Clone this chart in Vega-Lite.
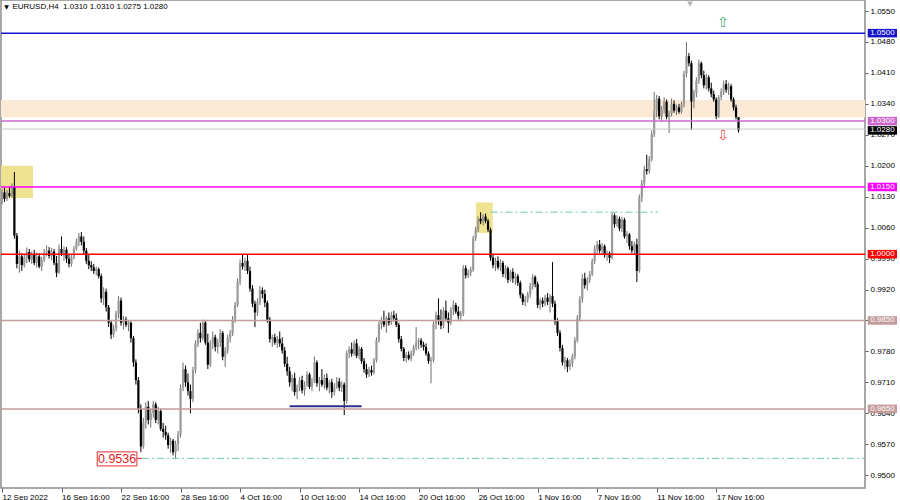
{
"$schema":"https://vega.github.io/schema/vega-lite/v6.json",
"width":864,"height":488,"autosize":"none",
"padding":{"left":1,"top":0,"right":35,"bottom":12},
"background":"white",
"config":{"view":{"stroke":"#8c8c8c","strokeWidth":1.5},"font":"Liberation Sans",
 "axis":{"labelOverlap":false,"labelBound":false,"labelFlush":false,"grid":false,"domain":false,"labelFont":"Liberation Sans","labelFontSize":8,"labelColor":"#000000","tickColor":"#606060"}},
"datasets":{
"lv":[{"p":1.05,"k":"1.0500"},{"p":1.0301,"k":"1.0300"},{"p":1.028,"k":"1.0280"},{"p":1.0152,"k":"1.0150"},{"p":1.0,"k":"1.0000"},{"p":0.985,"k":"0.9850"},{"p":0.965,"k":"0.9650"}],
"c":[
{"i":0,"o":1.0120,"h":1.0148,"l":1.0112,"c":1.0140},
{"i":1,"o":1.0140,"h":1.0150,"l":1.0118,"c":1.0125},
{"i":2,"o":1.0125,"h":1.0145,"l":1.0120,"c":1.0138},
{"i":3,"o":1.0138,"h":1.0152,"l":1.0128,"c":1.0132},
{"i":4,"o":1.0132,"h":1.0160,"l":1.0128,"c":1.0152},
{"i":5,"o":1.0152,"h":1.0186,"l":1.0035,"c":1.0042},
{"i":6,"o":1.0042,"h":1.0048,"l":0.9968,"c":0.9978},
{"i":7,"o":0.9978,"h":1.0008,"l":0.9958,"c":0.9995},
{"i":8,"o":0.9995,"h":1.0002,"l":0.9962,"c":0.9975},
{"i":9,"o":0.9975,"h":1.0000,"l":0.9970,"c":0.9992},
{"i":10,"o":0.9992,"h":1.0015,"l":0.9980,"c":1.0005},
{"i":11,"o":1.0005,"h":1.0012,"l":0.9982,"c":0.9988},
{"i":12,"o":0.9988,"h":1.0006,"l":0.9978,"c":0.9998},
{"i":13,"o":0.9998,"h":1.0010,"l":0.9975,"c":0.9980},
{"i":14,"o":0.9980,"h":1.0004,"l":0.9970,"c":0.9995},
{"i":15,"o":0.9995,"h":1.0002,"l":0.9968,"c":0.9972},
{"i":16,"o":0.9972,"h":0.9994,"l":0.9962,"c":0.9988},
{"i":17,"o":0.9988,"h":1.0012,"l":0.9982,"c":1.0004},
{"i":18,"o":1.0004,"h":1.0020,"l":0.9995,"c":1.0008},
{"i":19,"o":1.0008,"h":1.0016,"l":0.9990,"c":0.9996},
{"i":20,"o":0.9996,"h":1.0014,"l":0.9986,"c":1.0006},
{"i":21,"o":1.0006,"h":1.0012,"l":0.9975,"c":0.9980},
{"i":22,"o":0.9980,"h":0.9996,"l":0.9948,"c":0.9958},
{"i":23,"o":0.9958,"h":1.0022,"l":0.9955,"c":1.0012},
{"i":24,"o":1.0012,"h":1.0040,"l":0.9996,"c":1.0002},
{"i":25,"o":1.0002,"h":1.0018,"l":0.9985,"c":1.0010},
{"i":26,"o":1.0010,"h":1.0016,"l":0.9980,"c":0.9990},
{"i":27,"o":0.9990,"h":1.0000,"l":0.9970,"c":0.9978},
{"i":28,"o":0.9978,"h":0.9998,"l":0.9972,"c":0.9992},
{"i":29,"o":0.9992,"h":1.0018,"l":0.9988,"c":1.0012},
{"i":30,"o":1.0012,"h":1.0035,"l":1.0008,"c":1.0028},
{"i":31,"o":1.0028,"h":1.0048,"l":1.0018,"c":1.0040},
{"i":32,"o":1.0040,"h":1.0050,"l":1.0020,"c":1.0028},
{"i":33,"o":1.0028,"h":1.0040,"l":1.0000,"c":1.0008},
{"i":34,"o":1.0008,"h":1.0014,"l":0.9978,"c":0.9985},
{"i":35,"o":0.9985,"h":0.9998,"l":0.9966,"c":0.9975},
{"i":36,"o":0.9975,"h":0.9984,"l":0.9962,"c":0.9970},
{"i":37,"o":0.9970,"h":0.9978,"l":0.9955,"c":0.9962},
{"i":38,"o":0.9962,"h":0.9972,"l":0.9952,"c":0.9966},
{"i":39,"o":0.9966,"h":0.9970,"l":0.9945,"c":0.9950},
{"i":40,"o":0.9950,"h":0.9956,"l":0.9890,"c":0.9900},
{"i":41,"o":0.9900,"h":0.9925,"l":0.9885,"c":0.9915},
{"i":42,"o":0.9915,"h":0.9922,"l":0.9870,"c":0.9880},
{"i":43,"o":0.9880,"h":0.9885,"l":0.9835,"c":0.9845},
{"i":44,"o":0.9845,"h":0.9850,"l":0.9808,"c":0.9818},
{"i":45,"o":0.9818,"h":0.9840,"l":0.9812,"c":0.9832},
{"i":46,"o":0.9832,"h":0.9872,"l":0.9825,"c":0.9865},
{"i":47,"o":0.9865,"h":0.9905,"l":0.9855,"c":0.9895},
{"i":48,"o":0.9895,"h":0.9902,"l":0.9838,"c":0.9845},
{"i":49,"o":0.9845,"h":0.9860,"l":0.9830,"c":0.9852},
{"i":50,"o":0.9852,"h":0.9858,"l":0.9835,"c":0.9840},
{"i":51,"o":0.9840,"h":0.9850,"l":0.9826,"c":0.9845},
{"i":52,"o":0.9845,"h":0.9848,"l":0.9800,"c":0.9810},
{"i":53,"o":0.9810,"h":0.9815,"l":0.9745,"c":0.9755},
{"i":54,"o":0.9755,"h":0.9762,"l":0.9705,"c":0.9715},
{"i":55,"o":0.9715,"h":0.9722,"l":0.9640,"c":0.9650},
{"i":56,"o":0.9650,"h":0.9660,"l":0.9552,"c":0.9565},
{"i":57,"o":0.9565,"h":0.9630,"l":0.9560,"c":0.9620},
{"i":58,"o":0.9620,"h":0.9665,"l":0.9605,"c":0.9655},
{"i":59,"o":0.9655,"h":0.9668,"l":0.9615,"c":0.9625},
{"i":60,"o":0.9625,"h":0.9650,"l":0.9608,"c":0.9640},
{"i":61,"o":0.9640,"h":0.9668,"l":0.9630,"c":0.9660},
{"i":62,"o":0.9660,"h":0.9665,"l":0.9618,"c":0.9625},
{"i":63,"o":0.9625,"h":0.9655,"l":0.9615,"c":0.9645},
{"i":64,"o":0.9645,"h":0.9650,"l":0.9600,"c":0.9605},
{"i":65,"o":0.9605,"h":0.9618,"l":0.9585,"c":0.9598},
{"i":66,"o":0.9598,"h":0.9612,"l":0.9580,"c":0.9590},
{"i":67,"o":0.9590,"h":0.9596,"l":0.9560,"c":0.9568},
{"i":68,"o":0.9568,"h":0.9585,"l":0.9550,"c":0.9578},
{"i":69,"o":0.9578,"h":0.9582,"l":0.9545,"c":0.9552},
{"i":70,"o":0.9552,"h":0.9578,"l":0.9536,"c":0.9570},
{"i":71,"o":0.9570,"h":0.9600,"l":0.9555,"c":0.9592},
{"i":72,"o":0.9592,"h":0.9705,"l":0.9585,"c":0.9698},
{"i":73,"o":0.9698,"h":0.9755,"l":0.9690,"c":0.9740},
{"i":74,"o":0.9740,"h":0.9748,"l":0.9700,"c":0.9710},
{"i":75,"o":0.9710,"h":0.9730,"l":0.9680,"c":0.9690},
{"i":76,"o":0.9690,"h":0.9705,"l":0.9640,"c":0.9672},
{"i":77,"o":0.9672,"h":0.9745,"l":0.9665,"c":0.9738},
{"i":78,"o":0.9738,"h":0.9805,"l":0.9730,"c":0.9798},
{"i":79,"o":0.9798,"h":0.9830,"l":0.9790,"c":0.9822},
{"i":80,"o":0.9822,"h":0.9845,"l":0.9800,"c":0.9810},
{"i":81,"o":0.9810,"h":0.9852,"l":0.9805,"c":0.9845},
{"i":82,"o":0.9845,"h":0.9850,"l":0.9795,"c":0.9800},
{"i":83,"o":0.9800,"h":0.9820,"l":0.9740,"c":0.9750},
{"i":84,"o":0.9750,"h":0.9805,"l":0.9745,"c":0.9798},
{"i":85,"o":0.9798,"h":0.9825,"l":0.9785,"c":0.9812},
{"i":86,"o":0.9812,"h":0.9818,"l":0.9780,"c":0.9790},
{"i":87,"o":0.9790,"h":0.9808,"l":0.9775,"c":0.9800},
{"i":88,"o":0.9800,"h":0.9830,"l":0.9790,"c":0.9822},
{"i":89,"o":0.9822,"h":0.9826,"l":0.9760,"c":0.9768},
{"i":90,"o":0.9768,"h":0.9790,"l":0.9745,"c":0.9782},
{"i":91,"o":0.9782,"h":0.9818,"l":0.9775,"c":0.9810},
{"i":92,"o":0.9810,"h":0.9828,"l":0.9800,"c":0.9820},
{"i":93,"o":0.9820,"h":0.9860,"l":0.9815,"c":0.9852},
{"i":94,"o":0.9852,"h":0.9892,"l":0.9845,"c":0.9885},
{"i":95,"o":0.9885,"h":0.9945,"l":0.9880,"c":0.9938},
{"i":96,"o":0.9938,"h":0.9988,"l":0.9930,"c":0.9980},
{"i":97,"o":0.9980,"h":0.9998,"l":0.9965,"c":0.9972},
{"i":98,"o":0.9972,"h":0.9992,"l":0.9962,"c":0.9985},
{"i":99,"o":0.9985,"h":0.9998,"l":0.9955,"c":0.9962},
{"i":100,"o":0.9962,"h":0.9972,"l":0.9915,"c":0.9922},
{"i":101,"o":0.9922,"h":0.9930,"l":0.9880,"c":0.9888},
{"i":102,"o":0.9888,"h":0.9895,"l":0.9835,"c":0.9868},
{"i":103,"o":0.9868,"h":0.9900,"l":0.9860,"c":0.9892},
{"i":104,"o":0.9892,"h":0.9928,"l":0.9885,"c":0.9918},
{"i":105,"o":0.9918,"h":0.9925,"l":0.9900,"c":0.9910},
{"i":106,"o":0.9910,"h":0.9920,"l":0.9880,"c":0.9890},
{"i":107,"o":0.9890,"h":0.9895,"l":0.9845,"c":0.9852},
{"i":108,"o":0.9852,"h":0.9858,"l":0.9800,"c":0.9808},
{"i":109,"o":0.9808,"h":0.9818,"l":0.9790,"c":0.9812},
{"i":110,"o":0.9812,"h":0.9820,"l":0.9795,"c":0.9800},
{"i":111,"o":0.9800,"h":0.9815,"l":0.9788,"c":0.9808},
{"i":112,"o":0.9808,"h":0.9825,"l":0.9790,"c":0.9798},
{"i":113,"o":0.9798,"h":0.9812,"l":0.9775,"c":0.9782},
{"i":114,"o":0.9782,"h":0.9790,"l":0.9745,"c":0.9752},
{"i":115,"o":0.9752,"h":0.9768,"l":0.9725,"c":0.9735},
{"i":116,"o":0.9735,"h":0.9745,"l":0.9700,"c":0.9710},
{"i":117,"o":0.9710,"h":0.9728,"l":0.9690,"c":0.9720},
{"i":118,"o":0.9720,"h":0.9732,"l":0.9680,"c":0.9688},
{"i":119,"o":0.9688,"h":0.9705,"l":0.9672,"c":0.9698},
{"i":120,"o":0.9698,"h":0.9722,"l":0.9690,"c":0.9715},
{"i":121,"o":0.9715,"h":0.9725,"l":0.9685,"c":0.9692},
{"i":122,"o":0.9692,"h":0.9712,"l":0.9680,"c":0.9705},
{"i":123,"o":0.9705,"h":0.9735,"l":0.9700,"c":0.9728},
{"i":124,"o":0.9728,"h":0.9732,"l":0.9695,"c":0.9700},
{"i":125,"o":0.9700,"h":0.9720,"l":0.9690,"c":0.9712},
{"i":126,"o":0.9712,"h":0.9768,"l":0.9708,"c":0.9755},
{"i":127,"o":0.9755,"h":0.9760,"l":0.9700,"c":0.9708},
{"i":128,"o":0.9708,"h":0.9722,"l":0.9690,"c":0.9715},
{"i":129,"o":0.9715,"h":0.9740,"l":0.9700,"c":0.9705},
{"i":130,"o":0.9705,"h":0.9728,"l":0.9695,"c":0.9720},
{"i":131,"o":0.9720,"h":0.9730,"l":0.9692,"c":0.9698},
{"i":132,"o":0.9698,"h":0.9715,"l":0.9685,"c":0.9710},
{"i":133,"o":0.9710,"h":0.9718,"l":0.9675,"c":0.9688},
{"i":134,"o":0.9688,"h":0.9708,"l":0.9680,"c":0.9700},
{"i":135,"o":0.9700,"h":0.9722,"l":0.9695,"c":0.9712},
{"i":136,"o":0.9712,"h":0.9720,"l":0.9690,"c":0.9698},
{"i":137,"o":0.9698,"h":0.9712,"l":0.9688,"c":0.9705},
{"i":138,"o":0.9705,"h":0.9710,"l":0.9636,"c":0.9668},
{"i":139,"o":0.9668,"h":0.9782,"l":0.9662,"c":0.9776},
{"i":140,"o":0.9776,"h":0.9792,"l":0.9765,"c":0.9785},
{"i":141,"o":0.9785,"h":0.9800,"l":0.9768,"c":0.9775},
{"i":142,"o":0.9775,"h":0.9805,"l":0.9770,"c":0.9798},
{"i":143,"o":0.9798,"h":0.9808,"l":0.9765,"c":0.9770},
{"i":144,"o":0.9770,"h":0.9792,"l":0.9762,"c":0.9786},
{"i":145,"o":0.9786,"h":0.9790,"l":0.9752,"c":0.9758},
{"i":146,"o":0.9758,"h":0.9765,"l":0.9732,"c":0.9740},
{"i":147,"o":0.9740,"h":0.9752,"l":0.9720,"c":0.9728},
{"i":148,"o":0.9728,"h":0.9745,"l":0.9722,"c":0.9738},
{"i":149,"o":0.9738,"h":0.9748,"l":0.9725,"c":0.9732},
{"i":150,"o":0.9732,"h":0.9765,"l":0.9728,"c":0.9760},
{"i":151,"o":0.9760,"h":0.9812,"l":0.9755,"c":0.9805},
{"i":152,"o":0.9805,"h":0.9848,"l":0.9800,"c":0.9842},
{"i":153,"o":0.9842,"h":0.9858,"l":0.9830,"c":0.9850},
{"i":154,"o":0.9850,"h":0.9872,"l":0.9835,"c":0.9840},
{"i":155,"o":0.9840,"h":0.9860,"l":0.9822,"c":0.9855},
{"i":156,"o":0.9855,"h":0.9868,"l":0.9838,"c":0.9845},
{"i":157,"o":0.9845,"h":0.9870,"l":0.9840,"c":0.9862},
{"i":158,"o":0.9862,"h":0.9872,"l":0.9848,"c":0.9855},
{"i":159,"o":0.9855,"h":0.9866,"l":0.9835,"c":0.9840},
{"i":160,"o":0.9840,"h":0.9845,"l":0.9800,"c":0.9808},
{"i":161,"o":0.9808,"h":0.9815,"l":0.9780,"c":0.9786},
{"i":162,"o":0.9786,"h":0.9790,"l":0.9758,"c":0.9765},
{"i":163,"o":0.9765,"h":0.9778,"l":0.9755,"c":0.9772},
{"i":164,"o":0.9772,"h":0.9780,"l":0.9760,"c":0.9764},
{"i":165,"o":0.9764,"h":0.9782,"l":0.9758,"c":0.9776},
{"i":166,"o":0.9776,"h":0.9795,"l":0.9770,"c":0.9790},
{"i":167,"o":0.9790,"h":0.9835,"l":0.9782,"c":0.9800},
{"i":168,"o":0.9800,"h":0.9810,"l":0.9785,"c":0.9805},
{"i":169,"o":0.9805,"h":0.9810,"l":0.9788,"c":0.9795},
{"i":170,"o":0.9795,"h":0.9802,"l":0.9782,"c":0.9790},
{"i":171,"o":0.9790,"h":0.9798,"l":0.9770,"c":0.9775},
{"i":172,"o":0.9775,"h":0.9780,"l":0.9752,"c":0.9758},
{"i":173,"o":0.9758,"h":0.9768,"l":0.9708,"c":0.9760},
{"i":174,"o":0.9760,"h":0.9848,"l":0.9755,"c":0.9842},
{"i":175,"o":0.9842,"h":0.9870,"l":0.9830,"c":0.9862},
{"i":176,"o":0.9862,"h":0.9900,"l":0.9840,"c":0.9850},
{"i":177,"o":0.9850,"h":0.9875,"l":0.9830,"c":0.9838},
{"i":178,"o":0.9838,"h":0.9880,"l":0.9832,"c":0.9872},
{"i":179,"o":0.9872,"h":0.9895,"l":0.9848,"c":0.9855},
{"i":180,"o":0.9855,"h":0.9868,"l":0.9822,"c":0.9845},
{"i":181,"o":0.9845,"h":0.9880,"l":0.9840,"c":0.9875},
{"i":182,"o":0.9875,"h":0.9895,"l":0.9862,"c":0.9885},
{"i":183,"o":0.9885,"h":0.9890,"l":0.9865,"c":0.9870},
{"i":184,"o":0.9870,"h":0.9882,"l":0.9852,"c":0.9860},
{"i":185,"o":0.9860,"h":0.9872,"l":0.9848,"c":0.9866},
{"i":186,"o":0.9866,"h":0.9975,"l":0.9860,"c":0.9968},
{"i":187,"o":0.9968,"h":0.9975,"l":0.9945,"c":0.9952},
{"i":188,"o":0.9952,"h":0.9965,"l":0.9946,"c":0.9958},
{"i":189,"o":0.9958,"h":0.9972,"l":0.9950,"c":0.9965},
{"i":190,"o":0.9965,"h":1.0042,"l":0.9960,"c":1.0036},
{"i":191,"o":1.0036,"h":1.0062,"l":1.0030,"c":1.0055},
{"i":192,"o":1.0055,"h":1.0085,"l":1.0050,"c":1.0080},
{"i":193,"o":1.0080,"h":1.0095,"l":1.0068,"c":1.0074},
{"i":194,"o":1.0074,"h":1.0090,"l":1.0065,"c":1.0085},
{"i":195,"o":1.0085,"h":1.0092,"l":1.0070,"c":1.0075},
{"i":196,"o":1.0075,"h":1.0080,"l":1.0050,"c":1.0055},
{"i":197,"o":1.0055,"h":1.0060,"l":0.9985,"c":0.9992},
{"i":198,"o":0.9992,"h":1.0000,"l":0.9968,"c":0.9975},
{"i":199,"o":0.9975,"h":0.9992,"l":0.9962,"c":0.9985},
{"i":200,"o":0.9985,"h":0.9995,"l":0.9965,"c":0.9970},
{"i":201,"o":0.9970,"h":0.9988,"l":0.9962,"c":0.9980},
{"i":202,"o":0.9980,"h":0.9985,"l":0.9948,"c":0.9955},
{"i":203,"o":0.9955,"h":0.9975,"l":0.9945,"c":0.9968},
{"i":204,"o":0.9968,"h":0.9972,"l":0.9935,"c":0.9942},
{"i":205,"o":0.9942,"h":0.9965,"l":0.9938,"c":0.9960},
{"i":206,"o":0.9960,"h":0.9968,"l":0.9935,"c":0.9945},
{"i":207,"o":0.9945,"h":0.9958,"l":0.9930,"c":0.9950},
{"i":208,"o":0.9950,"h":0.9955,"l":0.9928,"c":0.9935},
{"i":209,"o":0.9935,"h":0.9940,"l":0.9900,"c":0.9908},
{"i":210,"o":0.9908,"h":0.9912,"l":0.9885,"c":0.9892},
{"i":211,"o":0.9892,"h":0.9905,"l":0.9882,"c":0.9898},
{"i":212,"o":0.9898,"h":0.9915,"l":0.9890,"c":0.9910},
{"i":213,"o":0.9910,"h":0.9935,"l":0.9902,"c":0.9928},
{"i":214,"o":0.9928,"h":0.9955,"l":0.9920,"c":0.9948},
{"i":215,"o":0.9948,"h":0.9952,"l":0.9925,"c":0.9932},
{"i":216,"o":0.9932,"h":0.9938,"l":0.9878,"c":0.9885},
{"i":217,"o":0.9885,"h":0.9900,"l":0.9875,"c":0.9895},
{"i":218,"o":0.9895,"h":0.9902,"l":0.9880,"c":0.9888},
{"i":219,"o":0.9888,"h":0.9908,"l":0.9882,"c":0.9902},
{"i":220,"o":0.9902,"h":0.9912,"l":0.9885,"c":0.9892},
{"i":221,"o":0.9892,"h":0.9910,"l":0.9868,"c":0.9905},
{"i":222,"o":0.9905,"h":0.9982,"l":0.9880,"c":0.9888},
{"i":223,"o":0.9888,"h":0.9895,"l":0.9840,"c":0.9848},
{"i":224,"o":0.9848,"h":0.9855,"l":0.9815,"c":0.9822},
{"i":225,"o":0.9822,"h":0.9828,"l":0.9780,"c":0.9788},
{"i":226,"o":0.9788,"h":0.9795,"l":0.9748,"c":0.9755},
{"i":227,"o":0.9755,"h":0.9768,"l":0.9740,"c":0.9760},
{"i":228,"o":0.9760,"h":0.9765,"l":0.9733,"c":0.9745},
{"i":229,"o":0.9745,"h":0.9762,"l":0.9738,"c":0.9752},
{"i":230,"o":0.9752,"h":0.9775,"l":0.9745,"c":0.9768},
{"i":231,"o":0.9768,"h":0.9812,"l":0.9762,"c":0.9805},
{"i":232,"o":0.9805,"h":0.9862,"l":0.9800,"c":0.9855},
{"i":233,"o":0.9855,"h":0.9905,"l":0.9848,"c":0.9898},
{"i":234,"o":0.9898,"h":0.9955,"l":0.9890,"c":0.9945},
{"i":235,"o":0.9945,"h":0.9958,"l":0.9922,"c":0.9930},
{"i":236,"o":0.9930,"h":0.9948,"l":0.9918,"c":0.9942},
{"i":237,"o":0.9942,"h":0.9962,"l":0.9935,"c":0.9955},
{"i":238,"o":0.9955,"h":0.9990,"l":0.9950,"c":0.9985},
{"i":239,"o":0.9985,"h":1.0020,"l":0.9978,"c":1.0012},
{"i":240,"o":1.0012,"h":1.0030,"l":1.0000,"c":1.0022},
{"i":241,"o":1.0022,"h":1.0032,"l":1.0002,"c":1.0008},
{"i":242,"o":1.0008,"h":1.0025,"l":0.9998,"c":1.0018},
{"i":243,"o":1.0018,"h":1.0022,"l":0.9992,"c":0.9998},
{"i":244,"o":0.9998,"h":1.0008,"l":0.9985,"c":1.0002},
{"i":245,"o":1.0002,"h":1.0006,"l":0.9980,"c":0.9992},
{"i":246,"o":0.9992,"h":1.0095,"l":0.9988,"c":1.0088},
{"i":247,"o":1.0088,"h":1.0092,"l":1.0060,"c":1.0068},
{"i":248,"o":1.0068,"h":1.0088,"l":1.0062,"c":1.0080},
{"i":249,"o":1.0080,"h":1.0085,"l":1.0052,"c":1.0058},
{"i":250,"o":1.0058,"h":1.0085,"l":1.0050,"c":1.0078},
{"i":251,"o":1.0078,"h":1.0082,"l":1.0035,"c":1.0040},
{"i":252,"o":1.0040,"h":1.0052,"l":1.0025,"c":1.0045},
{"i":253,"o":1.0045,"h":1.0048,"l":1.0010,"c":1.0018},
{"i":254,"o":1.0018,"h":1.0030,"l":1.0002,"c":1.0008},
{"i":255,"o":1.0008,"h":1.0028,"l":1.0000,"c":1.0022},
{"i":256,"o":1.0022,"h":1.0035,"l":0.9937,"c":0.9962},
{"i":257,"o":0.9962,"h":1.0135,"l":0.9958,"c":1.0128},
{"i":258,"o":1.0128,"h":1.0168,"l":1.0118,"c":1.0160},
{"i":259,"o":1.0160,"h":1.0200,"l":1.0150,"c":1.0192},
{"i":260,"o":1.0192,"h":1.0225,"l":1.0180,"c":1.0188},
{"i":261,"o":1.0188,"h":1.0222,"l":1.0182,"c":1.0215},
{"i":262,"o":1.0215,"h":1.0280,"l":1.0210,"c":1.0272},
{"i":263,"o":1.0272,"h":1.0367,"l":1.0265,"c":1.0325},
{"i":264,"o":1.0325,"h":1.0360,"l":1.0310,"c":1.0352},
{"i":265,"o":1.0352,"h":1.0358,"l":1.0305,"c":1.0312},
{"i":266,"o":1.0312,"h":1.0335,"l":1.0300,"c":1.0328},
{"i":267,"o":1.0328,"h":1.0355,"l":1.0318,"c":1.0345},
{"i":268,"o":1.0345,"h":1.0350,"l":1.0305,"c":1.0310},
{"i":269,"o":1.0310,"h":1.0325,"l":1.0274,"c":1.0318},
{"i":270,"o":1.0318,"h":1.0352,"l":1.0312,"c":1.0340},
{"i":271,"o":1.0340,"h":1.0348,"l":1.0320,"c":1.0325},
{"i":272,"o":1.0325,"h":1.0338,"l":1.0315,"c":1.0332},
{"i":273,"o":1.0332,"h":1.0340,"l":1.0318,"c":1.0322},
{"i":274,"o":1.0322,"h":1.0345,"l":1.0318,"c":1.0338},
{"i":275,"o":1.0338,"h":1.0415,"l":1.0332,"c":1.0408},
{"i":276,"o":1.0408,"h":1.0480,"l":1.0400,"c":1.0448},
{"i":277,"o":1.0448,"h":1.0455,"l":1.0425,"c":1.0432},
{"i":278,"o":1.0432,"h":1.0438,"l":1.0281,"c":1.0345},
{"i":279,"o":1.0345,"h":1.0372,"l":1.0330,"c":1.0365},
{"i":280,"o":1.0365,"h":1.0400,"l":1.0355,"c":1.0392},
{"i":281,"o":1.0392,"h":1.0440,"l":1.0385,"c":1.0432},
{"i":282,"o":1.0432,"h":1.0436,"l":1.0398,"c":1.0405},
{"i":283,"o":1.0405,"h":1.0415,"l":1.0375,"c":1.0382},
{"i":284,"o":1.0382,"h":1.0408,"l":1.0372,"c":1.0400},
{"i":285,"o":1.0400,"h":1.0405,"l":1.0368,"c":1.0375},
{"i":286,"o":1.0375,"h":1.0388,"l":1.0355,"c":1.0362},
{"i":287,"o":1.0362,"h":1.0370,"l":1.0345,"c":1.0350},
{"i":288,"o":1.0350,"h":1.0355,"l":1.0305,"c":1.0312},
{"i":289,"o":1.0312,"h":1.0360,"l":1.0308,"c":1.0355},
{"i":290,"o":1.0355,"h":1.0375,"l":1.0348,"c":1.0368},
{"i":291,"o":1.0368,"h":1.0392,"l":1.0360,"c":1.0385},
{"i":292,"o":1.0385,"h":1.0394,"l":1.0365,"c":1.0372},
{"i":293,"o":1.0372,"h":1.0388,"l":1.0360,"c":1.0380},
{"i":294,"o":1.0380,"h":1.0385,"l":1.0345,"c":1.0350},
{"i":295,"o":1.0350,"h":1.0355,"l":1.0325,"c":1.0332},
{"i":296,"o":1.0332,"h":1.0338,"l":1.0305,"c":1.0310},
{"i":297,"o":1.0310,"h":1.0310,"l":1.0275,"c":1.0280}
]},
"layer":[
{"data":{"name":"c"},"mark":{"type":"rule","opacity":0},
 "encoding":{
  "x":{"field":"i","type":"quantitative","title":null,"scale":{"domain":[-0.4,348],"nice":false,"zero":false},
   "axis":{"title":null,"values":[0,24,48,72,96,120,144,168,192,216,240,264,288],"tickCount":40,
    "labelExpr":"['12 Sep 2022','16 Sep 16:00','22 Sep 16:00','28 Sep 16:00','4 Oct 16:00','10 Oct 16:00','14 Oct 16:00','20 Oct 16:00','26 Oct 16:00','1 Nov 16:00','7 Nov 16:00','11 Nov 16:00','17 Nov 16:00'][round(datum.value/24)]",
    "labelAlign":"left","labelPadding":1,"tickSize":4,"labelOverlap":false}},
  "y":{"field":"l","type":"quantitative","title":null,"scale":{"domain":[0.9471,1.0575],"nice":false,"zero":false},
   "axis":{"orient":"right","title":null,"values":[1.055,1.048,1.041,1.034,1.027,1.02,1.013,1.006,0.999,0.992,0.985,0.978,0.971,0.964,0.957,0.95],"tickCount":40,
    "format":".4f","tickSize":3,"labelPadding":2,"labelOverlap":false}},
  "y2":{"field":"h"}}},
{"data":{"values":[{}]},"mark":{"type":"rect","color":"#fbe8d5"},
 "encoding":{"x":{"datum":-0.4,"type":"quantitative","title":null},"x2":{"datum":348},"y":{"datum":1.0310,"type":"quantitative","title":null},"y2":{"datum":1.0349}}},
{"data":{"values":[{}]},"mark":{"type":"rect","color":"#efe290"},
 "encoding":{"x":{"datum":-0.4,"type":"quantitative","title":null},"x2":{"datum":12.5},"y":{"datum":1.0127,"type":"quantitative","title":null},"y2":{"datum":1.0200}}},
{"data":{"values":[{}]},"mark":{"type":"rect","color":"#efe290"},
 "encoding":{"x":{"datum":191.1,"type":"quantitative","title":null},"x2":{"datum":197.9},"y":{"datum":1.0048,"type":"quantitative","title":null},"y2":{"datum":1.0117}}},
{"data":{"name":"c"},"mark":{"type":"rule","strokeWidth":1},
 "encoding":{
  "x":{"field":"i","type":"quantitative","title":null},
  "y":{"field":"l","type":"quantitative","title":null},
  "y2":{"field":"h"},
  "color":{"condition":{"test":"datum.c >= datum.o","value":"#6e6e6e"},"value":"#000000"}}},
{"data":{"name":"c"},"mark":{"type":"rule","strokeWidth":2.2},
 "encoding":{
  "x":{"field":"i","type":"quantitative","title":null},
  "y":{"field":"o","type":"quantitative","title":null},
  "y2":{"field":"c"},
  "color":{"condition":{"test":"datum.c >= datum.o","value":"#9a9a9a"},"value":"#000000"}}},
{"data":{"values":[{}]},"mark":{"type":"rule","color":"#c8c8c8","strokeWidth":1},
 "encoding":{"x":{"datum":-0.4,"type":"quantitative","title":null},"x2":{"datum":348},"y":{"datum":1.0283,"type":"quantitative","title":null}}},
{"data":{"name":"lv"},"transform":[{"filter":"datum.k != '1.0280'"}],"mark":{"type":"rule"},
 "encoding":{"x":{"datum":-0.4,"type":"quantitative","title":null},"x2":{"datum":348},
  "y":{"field":"p","type":"quantitative","title":null},
  "color":{"field":"k","type":"nominal","legend":null,"scale":{"domain":["1.0500","1.0300","1.0280","1.0150","1.0000","0.9850","0.9650"],"range":["#1414c8","#cc66cc","#000000","#ff00ff","#ff0000","#c49a9a","#c49a9a"]}},
  "strokeWidth":{"field":"k","type":"nominal","legend":null,"scale":{"domain":["1.0500","1.0300","1.0280","1.0150","1.0000","0.9850","0.9650"],"range":[1.5,1.5,1,2,3,2,2]}}}},
{"data":{"values":[{}]},"mark":{"type":"rule","color":"#6fc8b8","strokeWidth":1,"strokeDash":[7,3,2,3]},
 "encoding":{"x":{"datum":56.5,"type":"quantitative","title":null},"x2":{"datum":348},"y":{"datum":0.9538,"type":"quantitative","title":null}}},
{"data":{"values":[{}]},"mark":{"type":"rule","color":"#6fc8b8","strokeWidth":1,"strokeDash":[7,3,2,3]},
 "encoding":{"x":{"datum":197,"type":"quantitative","title":null},"x2":{"datum":264.5},"y":{"datum":1.0095,"type":"quantitative","title":null}}},
{"data":{"values":[{}]},"mark":{"type":"rule","color":"#2e2e8c","strokeWidth":2},
 "encoding":{"x":{"datum":116,"type":"quantitative","title":null},"x2":{"datum":145},"y":{"datum":0.9656,"type":"quantitative","title":null}}},
{"data":{"values":[{}]},"mark":{"type":"rule","color":"#e03030","strokeWidth":1},
 "encoding":{"x":{"datum":54.4,"type":"quantitative","title":null},"x2":{"datum":56.5},"y":{"datum":0.9538,"type":"quantitative","title":null}}},
{"data":{"values":[{}]},"mark":{"type":"rect","fill":"#ffffff","stroke":"#e03030","strokeWidth":1},
 "encoding":{"x":{"datum":38.4,"type":"quantitative","title":null},"x2":{"datum":54.4},"y":{"datum":0.95527,"type":"quantitative","title":null},"y2":{"datum":0.95210}}},
{"data":{"values":[{}]},"mark":{"type":"text","text":"0.9536","color":"#e02020","fontSize":12.5,"font":"Liberation Sans","align":"center","baseline":"middle"},
 "encoding":{"x":{"datum":46.4,"type":"quantitative","title":null},"y":{"datum":0.9537,"type":"quantitative","title":null}}},
{"data":{"values":[{}]},"mark":{"type":"text","text":"⇧","color":"#3daa78","fontSize":14,"font":"DejaVu Sans","align":"center","baseline":"middle"},
 "encoding":{"x":{"datum":290.7,"type":"quantitative","title":null},"y":{"datum":1.0523,"type":"quantitative","title":null}}},
{"data":{"values":[{}]},"mark":{"type":"text","text":"⇩","color":"#e0504a","fontSize":14,"font":"DejaVu Sans","align":"center","baseline":"middle"},
 "encoding":{"x":{"datum":290.7,"type":"quantitative","title":null},"y":{"datum":1.0267,"type":"quantitative","title":null}}},
{"data":{"values":[{}]},"mark":{"type":"text","text":"▼","color":"#b4b4b4","fontSize":7,"font":"DejaVu Sans","align":"center","baseline":"middle"},
 "encoding":{"x":{"datum":277.4,"type":"quantitative","title":null},"y":{"datum":1.0565,"type":"quantitative","title":null}}},
{"data":{"values":[{}]},"mark":{"type":"text","text":"▼","color":"#000000","fontSize":6,"font":"DejaVu Sans","align":"left","baseline":"middle"},
 "encoding":{"x":{"datum":0.9,"type":"quantitative","title":null},"y":{"datum":1.05597,"type":"quantitative","title":null}}},
{"data":{"values":[{}]},"mark":{"type":"text","text":"EURUSD,H4\u00a0 1.0310 1.0310 1.0275 1.0280","color":"#000000","fontSize":8,"font":"Liberation Sans","align":"left","baseline":"middle"},
 "encoding":{"x":{"datum":4.2,"type":"quantitative","title":null},"y":{"datum":1.05597,"type":"quantitative","title":null}}},
{"data":{"name":"lv"},"mark":{"type":"rule","strokeWidth":8.5},
 "encoding":{"x":{"datum":349.1,"type":"quantitative","title":null},"x2":{"datum":360.9},
  "y":{"field":"p","type":"quantitative","title":null},
  "color":{"field":"k","type":"nominal","legend":null}}},
{"data":{"name":"lv"},"mark":{"type":"text","color":"#ffffff","fontSize":8,"font":"Liberation Sans","align":"center","baseline":"middle"},
 "encoding":{"x":{"datum":355,"type":"quantitative","title":null},
  "y":{"field":"p","type":"quantitative","title":null},"text":{"field":"k"}}}
]
}
